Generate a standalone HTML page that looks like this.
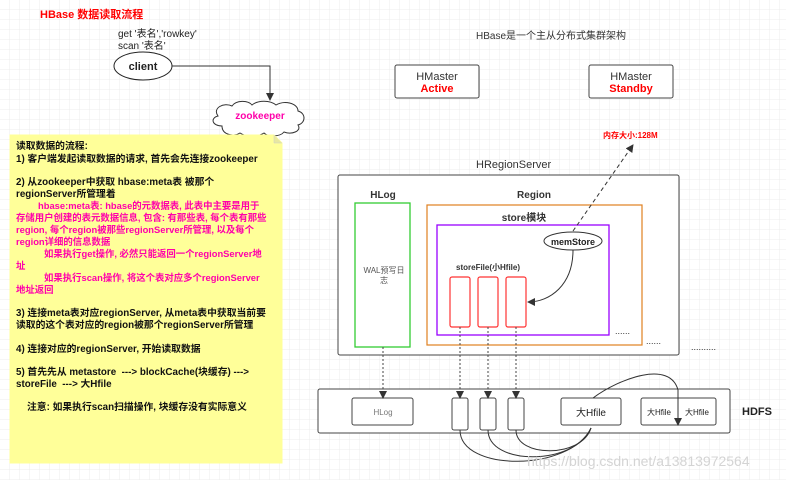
<!DOCTYPE html>
<html><head><meta charset="utf-8"><style>
html,body{margin:0;padding:0;background:#fff}
svg{display:block}
text{font-family:"Liberation Sans","Noto Sans CJK SC",sans-serif}
</style></head><body>
<svg width="786" height="480" viewBox="0 0 786 480" xmlns="http://www.w3.org/2000/svg">
<defs>
<pattern id="g" width="10" height="10" patternUnits="userSpaceOnUse"><path d="M10 0V10H0" fill="none" stroke="#ececec" stroke-width="1"/></pattern>
<marker id="a" markerWidth="8" markerHeight="8" refX="7" refY="4" orient="auto" markerUnits="userSpaceOnUse"><path d="M0 0L8 4L0 8z" fill="#333"/></marker>
</defs>
<rect width="786" height="480" fill="url(#g)"/>
<text x="40" y="18" font-size="11" font-weight="bold" fill="#f00">HBase 数据读取流程</text>
<text x="118" y="37" font-size="10" fill="#222">get '表名','rowkey'</text>
<text x="118" y="49" font-size="10" fill="#222">scan '表名'</text>
<ellipse cx="143" cy="66" rx="29" ry="14" fill="#fff" stroke="#222"/>
<text x="143" y="70" font-size="11" font-weight="bold" text-anchor="middle" fill="#222">client</text>
<path d="M172 66H270V100" fill="none" stroke="#333" marker-end="url(#a)"/>
<path d="M222 126c-10 0-12-8-4-10c-6-8 6-14 14-10c4-6 16-6 20-1c6-5 18-5 24 0c8-5 22-2 22 6c8 2 8 12 0 14c4 6-6 10-14 7c-4 5-16 5-20 1c-6 4-18 4-24 0c-6 4-18 2-18-7z" fill="#fff" stroke="#333"/>
<text x="260" y="119" font-size="10" font-weight="bold" text-anchor="middle" fill="#f0a">zookeeper</text>
<path d="M10 135H274L282 143V463H10z" fill="#ffff99" stroke="#ffff99"/>
<path d="M274 135V143H282" fill="#e8e8a0" stroke="#ccc" stroke-width=".5"/>
<g font-size="9.8" font-weight="bold" fill="#111">
<text x="16" y="149">读取数据的流程:</text>
<text x="16" y="162">1) 客户端发起读取数据的请求, 首先会先连接zookeeper</text>
<text x="16" y="185">2) 从zookeeper中获取 hbase:meta表 被那个</text>
<text x="16" y="197">regionServer所管理着</text>
</g>
<g font-size="9.4" font-weight="bold" fill="#f0a">
<text x="38" y="209">hbase:meta表: hbase的元数据表, 此表中主要是用于</text>
<text x="16" y="221">存储用户创建的表元数据信息, 包含: 有那些表, 每个表有那些</text>
<text x="16" y="233">region, 每个region被那些regionServer所管理, 以及每个</text>
<text x="16" y="245">region详细的信息数据</text>
<text x="44" y="257">如果执行get操作, 必然只能返回一个regionServer地</text>
<text x="16" y="269">址</text>
<text x="44" y="281">如果执行scan操作, 将这个表对应多个regionServer</text>
<text x="16" y="293">地址返回</text>
</g>
<g font-size="9.8" font-weight="bold" fill="#111">
<text x="16" y="316">3) 连接meta表对应regionServer, 从meta表中获取当前要</text>
<text x="16" y="328">读取的这个表对应的region被那个regionServer所管理</text>
<text x="16" y="352">4) 连接对应的regionServer, 开始读取数据</text>
<text x="16" y="375" xml:space="preserve">5) 首先先从 metastore  ---&gt; blockCache(块缓存) ---&gt;</text>
<text x="16" y="387" xml:space="preserve">storeFile  ---&gt; 大Hfile</text>
<text x="27" y="410">注意: 如果执行scan扫描操作, 块缓存没有实际意义</text>
</g>
<text x="476" y="39" font-size="10" fill="#333">HBase是一个主从分布式集群架构</text>
<rect x="395" y="65" width="84" height="33" rx="2" fill="#fff" stroke="#444"/>
<text x="437" y="80" font-size="11" text-anchor="middle" fill="#333">HMaster</text>
<text x="437" y="92" font-size="11" font-weight="bold" text-anchor="middle" fill="#f00">Active</text>
<rect x="589" y="65" width="84" height="33" rx="2" fill="#fff" stroke="#444"/>
<text x="631" y="80" font-size="11" text-anchor="middle" fill="#333">HMaster</text>
<text x="631" y="92" font-size="11" font-weight="bold" text-anchor="middle" fill="#f00">Standby</text>
<text x="603" y="138" font-size="8" font-weight="bold" fill="#f00">内存大小:128M</text>
<text x="476" y="168" font-size="11" fill="#333">HRegionServer</text>
<rect x="338" y="175" width="341" height="180" rx="2" fill="#fff" stroke="#444"/>
<text x="383" y="198" font-size="10" font-weight="bold" text-anchor="middle" fill="#333">HLog</text>
<rect x="355" y="203" width="55" height="144" fill="#fff" stroke="#3c3" stroke-width="1.3"/>
<text x="384" y="273" font-size="8" text-anchor="middle" fill="#555">WAL预写日</text>
<text x="384" y="283" font-size="8" text-anchor="middle" fill="#555">志</text>
<text x="534" y="198" font-size="10" font-weight="bold" text-anchor="middle" fill="#333">Region</text>
<rect x="427" y="205" width="215" height="140" fill="#fff" stroke="#e08020" stroke-width="1.2"/>
<text x="524" y="221" font-size="10" font-weight="bold" text-anchor="middle" fill="#333">store模块</text>
<rect x="437" y="225" width="172" height="110" fill="#fff" stroke="#90f" stroke-width="1.3"/>
<ellipse cx="573" cy="241" rx="29" ry="9" fill="#fff" stroke="#333"/>
<text x="573" y="245" font-size="9" font-weight="bold" text-anchor="middle" fill="#222">memStore</text>
<text x="456" y="270" font-size="8" font-weight="bold" fill="#333">storeFile(小Hfile)</text>
<rect x="450" y="277" width="20" height="50" rx="2" fill="#fff" stroke="#f33" stroke-width="1.2"/>
<rect x="478" y="277" width="20" height="50" rx="2" fill="#fff" stroke="#f33" stroke-width="1.2"/>
<rect x="506" y="277" width="20" height="50" rx="2" fill="#fff" stroke="#f33" stroke-width="1.2"/>
<path d="M573 250C573 285 550 302 528 302" fill="none" stroke="#333" marker-end="url(#a)"/>
<path d="M573 231L633 145" fill="none" stroke="#333" stroke-dasharray="4,3" marker-end="url(#a)"/>
<text x="615" y="334" font-size="9" fill="#333">......</text>
<text x="646" y="344" font-size="9" fill="#333">......</text>
<text x="691" y="350" font-size="9" fill="#333">..........</text>
<rect x="318" y="389" width="412" height="44" rx="2" fill="#fff" stroke="#444"/>
<text x="742" y="415" font-size="11" font-weight="bold" fill="#222">HDFS</text>
<rect x="352" y="398" width="61" height="27" rx="2" fill="#fff" stroke="#444"/>
<text x="383" y="415" font-size="8" text-anchor="middle" fill="#777">HLog</text>
<rect x="452" y="398" width="16" height="32" rx="2" fill="#fff" stroke="#444"/>
<rect x="480" y="398" width="16" height="32" rx="2" fill="#fff" stroke="#444"/>
<rect x="508" y="398" width="16" height="32" rx="2" fill="#fff" stroke="#444"/>
<rect x="561" y="398" width="60" height="27" rx="2" fill="#fff" stroke="#444"/>
<text x="591" y="416" font-size="10" text-anchor="middle" fill="#222">大Hfile</text>
<rect x="641" y="398" width="75" height="27" rx="2" fill="#fff" stroke="#444"/>
<text x="659" y="415" font-size="8" text-anchor="middle" fill="#222">大Hfile</text>
<text x="697" y="415" font-size="8" text-anchor="middle" fill="#222">大Hfile</text>
<g stroke="#444" stroke-dasharray="2,2" fill="none">
<path d="M383 347V398" marker-end="url(#a)"/>
<path d="M460 327V398" marker-end="url(#a)"/>
<path d="M488 327V398" marker-end="url(#a)"/>
<path d="M516 327V398" marker-end="url(#a)"/>
</g>
<g stroke="#333" fill="none">
<path d="M460 430C460 472 570 472 591 428"/>
<path d="M488 430C488 466 575 466 591 428"/>
<path d="M516 430C516 458 582 458 591 428"/>
<path d="M593 398C620 378 670 360 678 390V425" marker-end="url(#a)"/>
</g>
<text x="527" y="466" font-size="14" fill="#d4d4d4">https://blog.csdn.net/a13813972564</text>
</svg>
</body></html>
